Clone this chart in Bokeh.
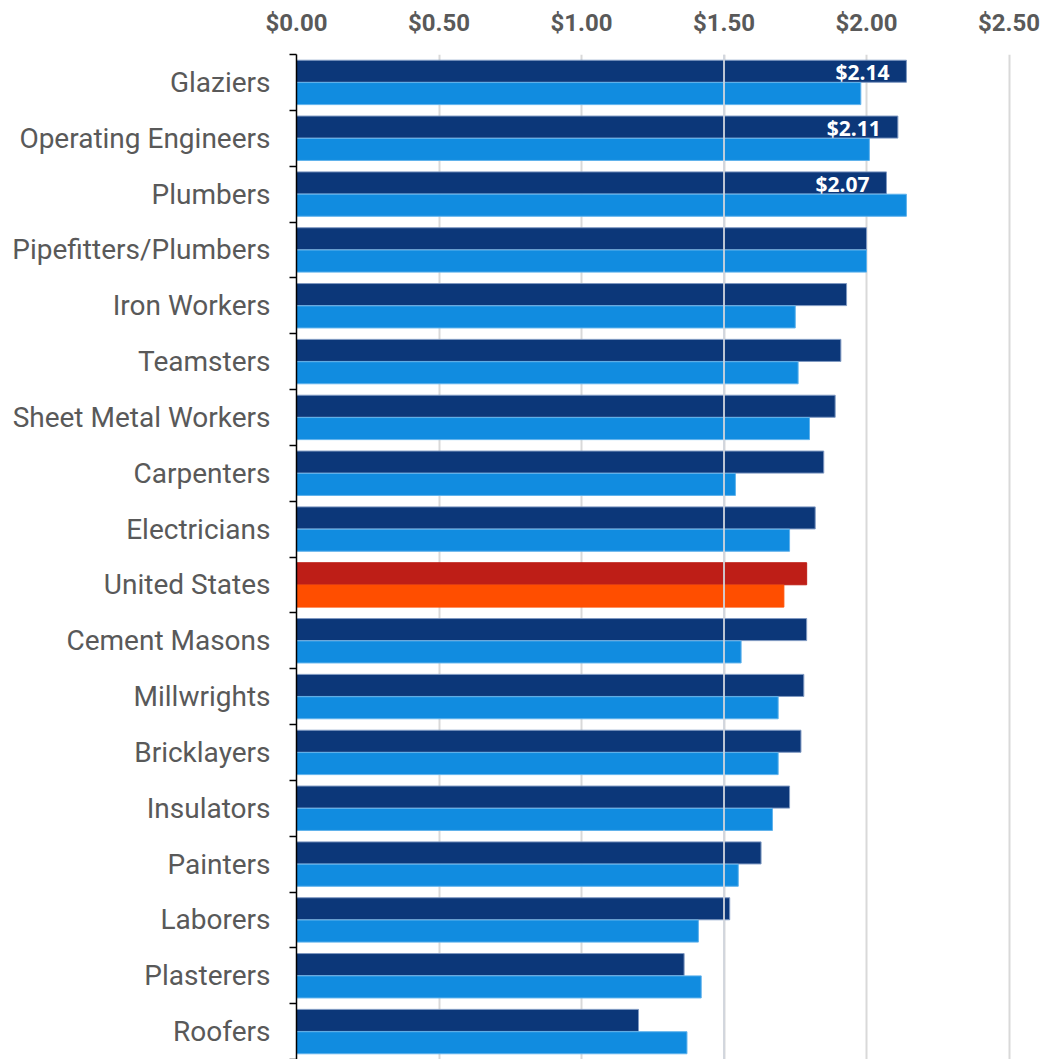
from bokeh.plotting import figure
from bokeh.models import Range1d, FixedTicker, NumeralTickFormatter, Span, ColumnDataSource
from bokeh.core.properties import value
from bokeh.embed import file_html
from bokeh.resources import INLINE

categories = ["Glaziers", "Operating Engineers", "Plumbers", "Pipefitters/Plumbers",
              "Iron Workers", "Teamsters", "Sheet Metal Workers", "Carpenters",
              "Electricians", "United States", "Cement Masons", "Millwrights",
              "Bricklayers", "Insulators", "Painters", "Laborers", "Plasterers", "Roofers"]
series_a = [2.14, 2.11, 2.07, 2.00, 1.93, 1.91, 1.89, 1.85, 1.82, 1.79, 1.79, 1.78,
            1.77, 1.73, 1.63, 1.52, 1.36, 1.20]
series_b = [1.98, 2.01, 2.14, 2.00, 1.75, 1.76, 1.80, 1.54, 1.73, 1.71, 1.56, 1.69,
            1.69, 1.67, 1.55, 1.41, 1.42, 1.37]
x_ticks = [0.0, 0.5, 1.0, 1.5, 2.0, 2.5]
labelled = ["Glaziers", "Operating Engineers", "Plumbers"]
highlight = "United States"

DARK, LIGHT = "#0c3779", "#118ce0"
US_DARK, US_LIGHT = "#be1e17", "#ff4e00"
GRAY = "#595959"

n = len(categories)
idx = list(range(n))
BAR_H = 0.395
OFF = 0.2

src_a = ColumnDataSource(dict(
    y=[i - OFF for i in idx], x=series_a,
    color=[US_DARK if c == highlight else DARK for c in categories],
    lc=[US_DARK if c == highlight else "#7f99c2" for c in categories]))
src_b = ColumnDataSource(dict(
    y=[i + OFF for i in idx], x=series_b,
    color=[US_LIGHT if c == highlight else LIGHT for c in categories],
    lc=[US_LIGHT if c == highlight else "#5fb2ec" for c in categories]))

p = figure(width=1045, height=1059, output_backend="svg", toolbar_location=None,
           x_range=Range1d(0, 2.628), y_range=Range1d(n - 0.5, -0.5),
           x_axis_location="above", min_border_left=296, min_border_right=0,
           min_border_top=54, min_border_bottom=0)
p.outline_line_color = None
p.background_fill_color = "white"

p.hbar(y="y", right="x", left=0, height=BAR_H, fill_color="color", line_color="lc",
       line_width=1, source=src_a)
p.hbar(y="y", right="x", left=0, height=BAR_H, fill_color="color", line_color="lc",
       line_width=1, source=src_b)

# reference line at $1.50 drawn over the bars
p.add_layout(Span(location=1.5, dimension="height", line_color="#d0d5dd", line_width=2,
                  line_alpha=0.9, level="overlay"))

# value labels
lab_x = [series_a[categories.index(c)] for c in labelled]
lab_y = [categories.index(c) - OFF for c in labelled]
lab_t = ["$%.2f" % v for v in lab_x]
p.text(x=lab_x, y=lab_y, text=lab_t, text_color="white", text_align="right",
       text_baseline="middle", x_offset=-17, y_offset=1,
       text_font=value("Open Sans"), text_font_style="bold", text_font_size="21px")

# x axis (top)
xa = p.xaxis[0]
xa.ticker = FixedTicker(ticks=x_ticks)
xa.formatter = NumeralTickFormatter(format="$0.00")
xa.axis_line_color = None
xa.major_tick_line_color = None
xa.minor_tick_line_color = None
xa.major_label_text_font = "Roboto"
xa.major_label_text_font_style = "bold"
xa.major_label_text_font_size = "24px"
xa.major_label_text_color = GRAY
xa.major_label_standoff = 12

p.xgrid.ticker = FixedTicker(ticks=x_ticks)
p.xgrid.grid_line_color = "#d9d9d9"
p.xgrid.grid_line_width = 2
p.ygrid.visible = False

# y axis (left) with category labels at centers and ticks at boundaries
ya = p.yaxis[0]
ya.ticker = FixedTicker(ticks=idx, minor_ticks=[i - 0.5 for i in range(n + 1)])
ya.major_label_overrides = {i: c for i, c in enumerate(categories)}
ya.major_tick_line_color = None
ya.major_tick_out = 0
ya.major_tick_in = 0
ya.minor_tick_line_color = "black"
ya.minor_tick_line_width = 1.5
ya.minor_tick_out = 7
ya.minor_tick_in = 0
ya.axis_line_color = "black"
ya.axis_line_width = 1.5
ya.major_label_text_font = "Roboto"
ya.major_label_text_font_size = "28px"
ya.major_label_text_color = GRAY
ya.major_label_standoff = 19

open("out.html", "w").write(file_html(p, INLINE))
